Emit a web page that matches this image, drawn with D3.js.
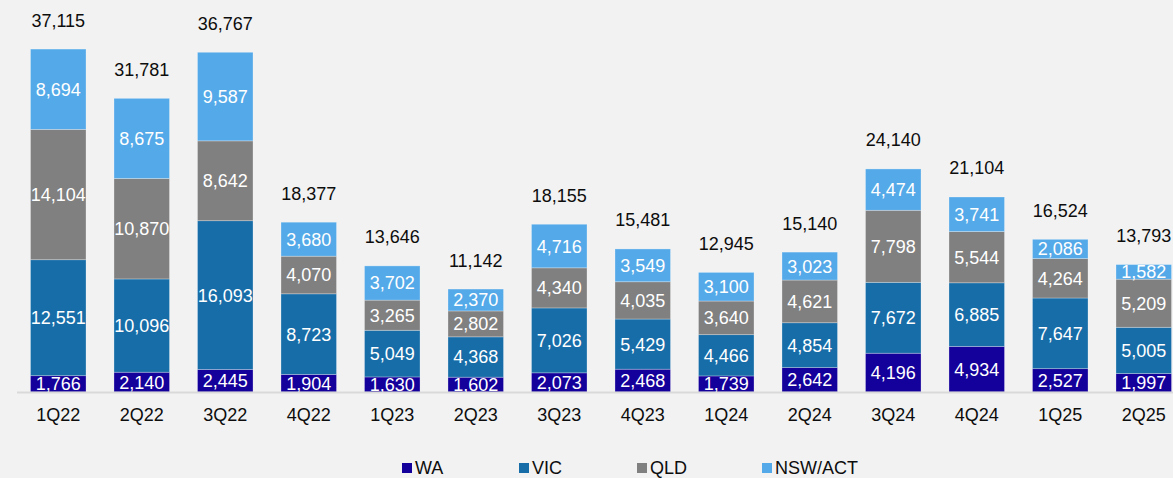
<script src="https://cdn.jsdelivr.net/npm/d3@7"></script>
<style>
  body { margin: 0; background: #f2f2f2; }
  svg { font-family: "Liberation Sans", Arial, sans-serif; display: block; }
</style>
<svg width="1173" height="478"></svg>
<script>
    // quarters and state volumes
    var quarters = ["1Q22","2Q22","3Q22","4Q22","1Q23","2Q23","3Q23","4Q23","1Q24","2Q24","3Q24","4Q24","1Q25","2Q25"];
    var wa  = [1766, 2140, 2445, 1904, 1630, 1602, 2073, 2468, 1739, 2642, 4196, 4934, 2527, 1997];
    var vic = [12551, 10096, 16093, 8723, 5049, 4368, 7026, 5429, 4466, 4854, 7672, 6885, 7647, 5005];
    var qld = [14104, 10870, 8642, 4070, 3265, 2802, 4340, 4035, 3640, 4621, 7798, 5544, 4264, 5209];
    var nsw = [8694, 8675, 9587, 3680, 3702, 2370, 4716, 3549, 3100, 3023, 4474, 3741, 2086, 1582];
    var seriesNames = ["WA", "VIC", "QLD", "NSW/ACT"];
    var colors = ["#14009a", "#176da8", "#808080", "#54a9e8"];

    var svg = d3.select("svg");
    var fmt = d3.format(",");

    var rows = quarters.map(function(q, i) {
        return {q: q, "WA": wa[i], "VIC": vic[i], "QLD": qld[i], "NSW/ACT": nsw[i]};
    });
    var stacked = d3.stack().keys(seriesNames)(rows);

    var x = d3.scaleBand().domain(quarters).range([16.5, 1185.5])
        .paddingInner(0.335).paddingOuter(0.1675);
    var y = d3.scaleLinear().domain([0, 40000]).range([392, 22.4]);

    // bars
    var layer = svg.append("g").selectAll("g")
        .data(stacked)
        .enter().append("g")
        .attr("fill", function(d, i) { return colors[i]; });

    layer.selectAll("rect")
        .data(function(d) { return d; })
        .enter().append("rect")
        .attr("x", function(d) { return x(d.data.q); })
        .attr("y", function(d) { return y(d[1]); })
        .attr("width", x.bandwidth())
        .attr("height", function(d) { return y(d[0]) - y(d[1]); })
        .attr("stroke", "rgba(255,255,255,0.35)")
        .attr("stroke-width", 0.8);

    // segment labels
    layer.selectAll("text")
        .data(function(d) { return d; })
        .enter().append("text")
        .attr("x", function(d) { return x(d.data.q) + x.bandwidth() / 2; })
        .attr("y", function(d) { return (y(d[0]) + y(d[1])) / 2; })
        .attr("dy", "0.36em")
        .attr("text-anchor", "middle")
        .attr("fill", "#ffffff")
        .style("font-size", "18px")
        .text(function(d) { return fmt(d[1] - d[0]); });

    // axis
    var axis = svg.append("g")
        .attr("transform", "translate(0,392)")
        .call(d3.axisBottom(x).tickSize(0).tickPadding(16));
    axis.select(".domain").attr("stroke", "#d9d9d9").attr("stroke-width", 2);
    axis.selectAll("text").style("font-size", "18px").attr("fill", "#0d0d0d")
        .style("font-family", "Liberation Sans, Arial, sans-serif");

    // totals
    svg.append("g").selectAll("text")
        .data(rows)
        .enter().append("text")
        .attr("x", function(d) { return x(d.q) + x.bandwidth() / 2; })
        .attr("y", function(d) { return y(d["WA"] + d["VIC"] + d["QLD"] + d["NSW/ACT"]) - 22.5; })
        .attr("text-anchor", "middle")
        .attr("fill", "#0d0d0d")
        .style("font-size", "18px")
        .text(function(d) { return fmt(d["WA"] + d["VIC"] + d["QLD"] + d["NSW/ACT"]); });

    // legend
    var legendX = [402, 519, 637, 762];
    var legend = svg.append("g").selectAll("g")
        .data(seriesNames)
        .enter().append("g")
        .attr("transform", function(d, i) { return "translate(" + legendX[i] + ",463)"; });
    legend.append("rect")
        .attr("width", 10).attr("height", 10)
        .attr("fill", function(d, i) { return colors[i]; });
    legend.append("text")
        .attr("x", 13).attr("y", 11)
        .attr("fill", "#0d0d0d")
        .style("font-size", "18px")
        .text(function(d) { return d; });
</script>
